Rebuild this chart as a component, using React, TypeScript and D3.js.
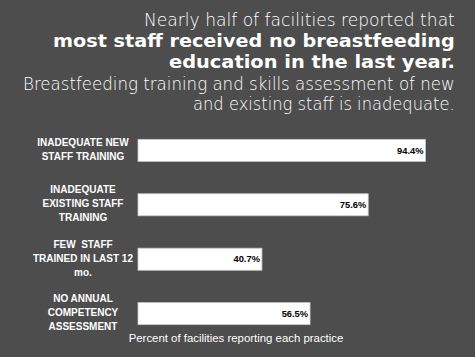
import React, { useLayoutEffect, useRef, useState } from "react";
import * as d3 from "d3";

const categories: string[][] = [
  ["INADEQUATE NEW", "STAFF TRAINING"],
  ["INADEQUATE", "EXISTING STAFF", "TRAINING"],
  ["FEW  STAFF", "TRAINED IN LAST 12", "mo."],
  ["NO ANNUAL", "COMPETENCY", "ASSESSMENT"],
];
const values: number[] = [94.4, 75.6, 40.7, 56.5];
const axisTitle = "Percent of facilities reporting each practice";

const titleLines = [
  { text: "Nearly half of facilities reported that", bold: false, x0: 144, y: 26 },
  { text: "most staff received no breastfeeding", bold: true, x0: 53, y: 47 },
  { text: "education in the last year.", bold: true, x0: 169, y: 68 },
  { text: "Breastfeeding training and skills assessment of new", bold: false, x0: 23, y: 90 },
  { text: "and existing staff is inadequate.", bold: false, x0: 193, y: 110 },
];

const W = 475;
const H = 357;

function FitText(props: { text: string; x0: number; x1: number; y: number; bold: boolean }) {
  const ref = useRef<SVGTextElement>(null);
  const [sx, setSx] = useState(1);
  useLayoutEffect(() => {
    if (ref.current) {
      const w = ref.current.getComputedTextLength();
      if (w > 0) setSx((props.x1 - props.x0) / w);
    }
  }, [props.text, props.x0, props.x1]);
  return (
    <text
      ref={ref}
      transform={`translate(${props.x0},${props.y}) scale(${sx},1)`}
      fill="#ffffff"
      fontFamily="'DejaVu Sans', sans-serif"
      fontWeight={props.bold ? 700 : 200}
      fontSize={17.5}
    >
      {props.text}
    </text>
  );
}

export default function App() {
  const x = d3.scaleLinear().domain([0, 100]).range([138, 442.5]);
  const y = d3
    .scaleBand<number>()
    .domain(d3.range(values.length))
    .range([123, 341])
    .paddingInner(0.595)
    .paddingOuter(0.3);
  const titleRight = 455;
  return (
    <svg
      width={W}
      height={H}
      style={{ position: "absolute", left: 0, top: 0, display: "block" }}
    >
      <rect x={0} y={0} width={W} height={H} fill="#4d4d4d" />
      {titleLines.map((l, i) => (
        <FitText key={i} text={l.text} x0={l.x0} x1={titleRight} y={l.y} bold={l.bold} />
      ))}
      {values.map((v, i) => {
        const by = y(i)!;
        const bh = y.bandwidth();
        const lines = categories[i];
        const lh = 14;
        const cy = by + bh / 2 - 1;
        const startY = cy - ((lines.length - 1) * lh) / 2;
        return (
          <g key={i}>
            <rect
              x={x(0)}
              y={by}
              width={x(v) - x(0)}
              height={bh}
              fill="#ffffff"
              stroke="#c8c8c8"
              strokeWidth={0.8}
            />
            <text
              x={x(v) - 2}
              y={by + bh / 2}
              dy="0.35em"
              textAnchor="end"
              fill="#000000"
              fontFamily="'Liberation Sans', Arial, sans-serif"
              fontWeight={700}
              fontSize={9.3}
            >
              {v.toFixed(1)}%
            </text>
            {lines.map((t, j) => (
              <text
                key={j}
                x={83}
                y={startY + j * lh}
                dy="0.35em"
                textAnchor="middle"
                fill="#ffffff"
                fontFamily="'Liberation Sans', Arial, sans-serif"
                fontWeight={700}
                fontSize={10}
                style={{ whiteSpace: "pre" }}
              >
                {t}
              </text>
            ))}
          </g>
        );
      })}
      <text
        x={236}
        y={338}
        dy="0.35em"
        textAnchor="middle"
        fill="#ffffff"
        fontFamily="'Liberation Sans', Arial, sans-serif"
        fontSize={11.4}
      >
        {axisTitle}
      </text>
    </svg>
  );
}
